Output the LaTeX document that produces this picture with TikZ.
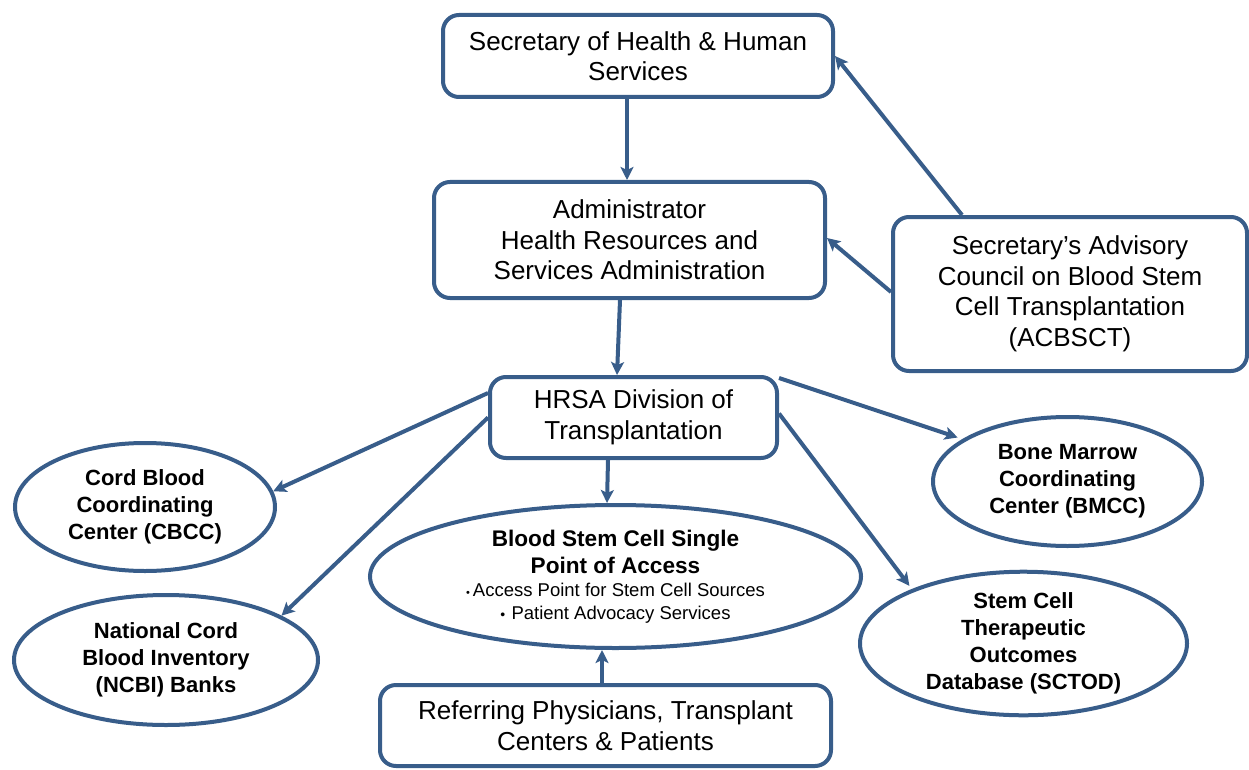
\documentclass[tikz,border=0pt]{standalone}
\usepackage{fontspec}
\setmainfont{Liberation Sans}
\usetikzlibrary{shapes.geometric,arrows.meta}
\definecolor{edgeblue}{HTML}{385D8A}
\begin{document}
\begin{tikzpicture}[x=1pt,y=-1pt,
  box/.style={draw=edgeblue,line width=4pt,rounded corners=16pt,fill=white,
    align=center,inner sep=0pt,font=\fontsize{26}{30.5}\selectfont},
  oval/.style={draw=edgeblue,line width=4pt,ellipse,fill=white,
    align=center,inner sep=0pt,font=\bfseries\fontsize{22}{27}\selectfont},
  link/.style={draw=edgeblue,line width=4pt,
    -{Stealth[length=13pt,width=13pt,inset=3pt]}}]
\useasboundingbox (0,0) rectangle (1249,770);

% rounded boxes
\node[box,minimum width=390pt,minimum height=82pt] (sec) at (638,56)
  {Secretary of Health \& Human\\Services};
\node[box,minimum width=391pt,minimum height=116pt] (adm) at (629.5,240)
  {Administrator\\Health Resources and\\Services Administration};
\node[box,minimum width=354pt,minimum height=154pt] (acb) at (1070,294)
  {Secretary’s Advisory\\Council on Blood Stem\\Cell Transplantation\\(ACBSCT)};
\node[box,minimum width=287pt,minimum height=81pt] (hrsa) at (633.5,417.5)
  {HRSA Division of\\Transplantation};
\node[box,minimum width=451pt,minimum height=81pt] (ref) at (605.5,725.5)
  {Referring Physicians, Transplant\\Centers \& Patients};

% ovals
\node[oval,minimum width=260pt,minimum height=128pt] (cbcc) at (145,507)
  {Cord Blood\\Coordinating\\Center (CBCC)};
\node[oval,minimum width=304pt,minimum height=130pt] (ncbi) at (166,660)
  {National Cord\\Blood Inventory\\(NCBI) Banks};
\node[oval,minimum width=269pt,minimum height=129pt] (bmcc) at (1067.5,481.5)
  {Bone Marrow\\Coordinating\\Center (BMCC)};
\node[oval,minimum width=327pt,minimum height=137pt] (sctod) at (1023.5,643.5)
  {Stem Cell\\Therapeutic\\Outcomes\\Database (SCTOD)};
% single point of access: the outline, then its mixed-size text on top
\node[oval,minimum width=491pt,minimum height=143pt] (bsc) at (615.5,576.5) {};
\node[inner sep=0pt,text width=420pt] (bsctext) at (bsc.center)
  {\centering\spaceskip=0pt\xspaceskip=0pt
   \bfseries\fontsize{22.6}{27}\selectfont Blood Stem Cell Single\par
   Point of Access\par
   \mdseries\fontsize{18.5}{23}\selectfont
   {\fontsize{11}{11}\selectfont•}\,Access Point for Stem Cell Sources\par
   {\fontsize{14}{14}\selectfont•}\,\,Patient Advocacy Services\par};

% connectors
\draw[link] ([xshift=-11pt]sec.south) -- ([xshift=-2.5pt]adm.north);
\draw[link] ([xshift=-108pt]acb.north) -- (sec.east);
\draw[link] ([yshift=2pt]acb.west) -- ([yshift=2pt]adm.east);
\draw[link] ([xshift=-9.5pt]adm.south) -- ([xshift=-16.5pt]hrsa.north);
\draw[link] ([yshift=-18pt]hrsa.north west) -- (cbcc.7);
\draw[link] (hrsa.west) -- (ncbi.21);
\draw[link] ([xshift=-25.5pt]hrsa.south) -- ([xshift=-8.5pt]bsc.north);
\draw[link,shorten >=5pt] ([yshift=-3pt]hrsa.north east) -- (bmcc.158);
\draw[link,shorten >=4pt] ([yshift=4pt]hrsa.east) -- (sctod.154);
\draw[link] ([xshift=-3.5pt]ref.north) -- ([xshift=-13.5pt]bsc.south);
\end{tikzpicture}
\end{document}
